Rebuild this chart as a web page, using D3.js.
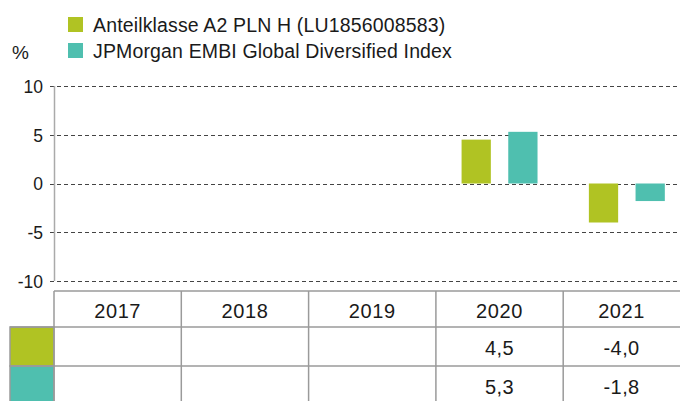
<!DOCTYPE html>
<html><head><meta charset="utf-8">
<script src="https://cdn.jsdelivr.net/npm/d3@7"></script>
<style>
html,body{margin:0;padding:0;background:#fff;overflow:hidden}
text{font-family:"Liberation Sans",Arial,Helvetica,sans-serif;fill:#1a1a1a}
</style></head>
<body>
<svg id="c" width="680" height="401"></svg>
<script>
const categories = ["2017","2018","2019","2020","2021"];
const seriesNames = ["Anteilklasse A2 PLN H (LU1856008583)","JPMorgan EMBI Global Diversified Index"];
const fundValues = [null,null,null,4.5,-4.0];
const indexValues = [null,null,null,5.3,-1.8];
const fundLabels = ["","","","4,5","-4,0"];
const indexLabels = ["","","","5,3","-1,8"];
const yTicks = [10,5,0,-5,-10];
const colors = ["#b0c323","#4fbfaf"];

(function(){
const svg = d3.select("#c");
const pLeft = 54, pRight = 690.5, pTop = 86, pBottom = 281;
const y = d3.scaleLinear().domain([-10,10]).range([pBottom, pTop]);
const x = d3.scaleBand().domain(categories).range([pLeft, pRight]);
const x1 = d3.scaleBand().domain([0,1]).range([0, x.bandwidth()]).paddingInner(0.373).paddingOuter(0.55);

// legend
seriesNames.forEach((n,i)=>{
  const yy = 17 + i*26;
  svg.append("rect").attr("x",68).attr("y",yy).attr("width",15).attr("height",15).attr("fill",colors[i]);
  svg.append("text").attr("x",93).attr("y",yy+15).attr("font-size",19.5).attr("letter-spacing",0.15).text(n);
});
svg.append("text").attr("x",12).attr("y",59).attr("font-size",19).text("%");

// grid
const yAxis = d3.axisLeft(y).tickValues(yTicks).tickSize(0).tickPadding(11).tickFormat(d => String(d));
const ga = svg.append("g").attr("transform",`translate(${pLeft},0)`).call(yAxis);
ga.select(".domain").remove();
ga.selectAll("text").attr("font-size",17.5).attr("fill","#1a1a1a").attr("dy","0.36em")
  .style("font-family","Liberation Sans, Arial, sans-serif");
svg.append("g").selectAll("line").data(yTicks).join("line")
  .attr("x1",pLeft-4).attr("x2",680).attr("y1",d=>Math.round(y(d))+0.5).attr("y2",d=>Math.round(y(d))+0.5)
  .attr("stroke","#444").attr("stroke-width",1.2).attr("stroke-dasharray","4,3");
svg.append("line").attr("x1",pLeft+0.5).attr("x2",pLeft+0.5).attr("y1",pTop).attr("y2",pBottom)
  .attr("stroke","#aaa").attr("stroke-width",1.5);

// bars
[fundValues, indexValues].forEach((vals,si)=>{
  svg.append("g").selectAll("rect").data(categories.map((c,i)=>({c,v:vals[i]})).filter(d=>d.v!==null)).join("rect")
    .attr("x",d=>x(d.c)+x1(si)).attr("width",x1.bandwidth())
    .attr("y",d=>y(Math.max(0,d.v))).attr("height",d=>Math.abs(y(d.v)-y(0)))
    .attr("fill",colors[si]);
});

// table
const rowY = [291, 327, 366, 405];
const tb = svg.append("g");
const stroke = "#9a9a9a";
[0,1].forEach(i=>{
  tb.append("rect").attr("x",10).attr("y",rowY[i+1]).attr("width",pLeft-10).attr("height",rowY[i+2]-rowY[i+1])
    .attr("fill",colors[i]).attr("stroke",stroke).attr("stroke-width",1.5);
});
rowY.slice(0,3).forEach((ry,i)=>{
  tb.append("line").attr("x1",i===0?pLeft:10).attr("x2",680).attr("y1",ry).attr("y2",ry).attr("stroke",stroke).attr("stroke-width",1.5);
});
categories.forEach(c=>{
  tb.append("line").attr("x1",x(c)).attr("x2",x(c)).attr("y1",rowY[0]).attr("y2",rowY[3]).attr("stroke",stroke).attr("stroke-width",1.5);
});
const cellCenter = c => (x(c) + Math.min(680, x(c)+x.bandwidth()))/2;
tb.append("g").selectAll("text").data(categories).join("text")
  .attr("x",d=>cellCenter(d)).attr("y",rowY[0]+27).attr("text-anchor","middle")
  .attr("font-size",20).attr("letter-spacing",0.6).text(d=>d);
[fundLabels, indexLabels].forEach((labs,si)=>{
  tb.append("g").selectAll("text").data(categories).join("text")
    .attr("x",d=>cellCenter(d)).attr("y",rowY[si+1]+28).attr("text-anchor","middle")
    .attr("font-size",20).attr("letter-spacing",0.4)
    .text((d,i)=>labs[i]);
});
})();
</script>
</body></html>
